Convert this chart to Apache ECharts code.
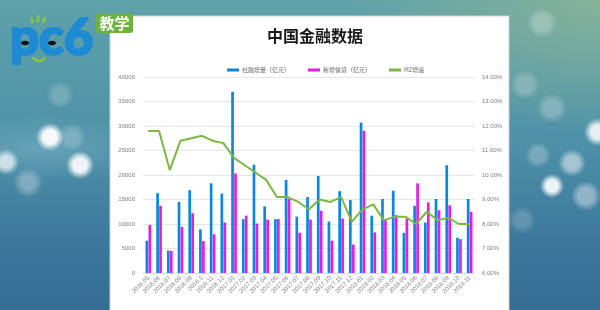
<!DOCTYPE html>
<html>
<head>
<meta charset="utf-8">
<script src="https://cdn.jsdelivr.net/npm/echarts@6/dist/echarts.min.js"></script>
<style>
  html, body { margin: 0; padding: 0; }
  #main {
    width: 600px;
    height: 310px;
    background:
      radial-gradient(circle at 50px 137px, rgba(255,255,255,0.95) 0 7px, rgba(255,255,255,0) 14px),
      radial-gradient(circle at 80px 165px, rgba(255,255,255,0.9) 0 7px, rgba(255,255,255,0) 14px),
      radial-gradient(circle at 6px 162px, rgba(255,255,255,0.7) 0 6px, rgba(255,255,255,0) 13px),
      radial-gradient(circle at 28px 183px, rgba(255,255,255,0.3) 0 7px, rgba(255,255,255,0) 15px),
      radial-gradient(circle at 60px 95px, rgba(255,255,255,0.2) 0 7px, rgba(255,255,255,0) 14px),
      radial-gradient(circle at 72px 137px, rgba(255,255,255,0.2) 0 7px, rgba(255,255,255,0) 14px),
      radial-gradient(circle at 542px 23px, rgba(255,255,255,0.25) 0 8px, rgba(255,255,255,0) 15px),
      radial-gradient(circle at 525px 85px, rgba(255,255,255,0.22) 0 8px, rgba(255,255,255,0) 15px),
      radial-gradient(circle at 552px 108px, rgba(255,255,255,0.25) 0 8px, rgba(255,255,255,0) 15px),
      radial-gradient(circle at 598px 132px, rgba(255,255,255,0.85) 0 7px, rgba(255,255,255,0) 14px),
      radial-gradient(circle at 572px 163px, rgba(255,255,255,0.5) 0 7px, rgba(255,255,255,0) 14px),
      radial-gradient(circle at 538px 155px, rgba(255,255,255,0.25) 0 7px, rgba(255,255,255,0) 13px),
      radial-gradient(circle at 552px 186px, rgba(255,255,255,0.9) 0 6px, rgba(255,255,255,0) 12px),
      radial-gradient(circle at 586px 196px, rgba(255,255,255,0.4) 0 8px, rgba(255,255,255,0) 15px),
      radial-gradient(circle at 522px 220px, rgba(255,255,255,0.18) 0 7px, rgba(255,255,255,0) 14px),
      radial-gradient(ellipse at 600px 0px, rgba(140,182,150,0.85), rgba(140,182,150,0) 260px),
      radial-gradient(ellipse at 40px 150px, rgba(150,200,215,0.35), rgba(150,200,215,0) 120px),
      linear-gradient(180deg, #5fa2aa 0%, #4e91a8 45%, #3c789c 78%, #356c94 100%);
  }
</style>
</head>
<body>
<div id="main"></div>
<script>
  // 月份
  const months = ['2016.05', '2016.06', '2016.07', '2016.08', '2016.09', '2016.1', '2016.11', '2016.12',
    '2017.01', '2017.02', '2017.03', '2017.04', '2017.05', '2017.06', '2017.07', '2017.08', '2017.09',
    '2017.10', '2017.11', '2017.12', '2018.01', '2018.02', '2018.03', '2018.04', '2018.05', '2018.06',
    '2018.07', '2018.08', '2018.09', '2018.10', '2018.11'];

  // 社融增量（亿元）
  const socialFinancing = [6600, 16300, 4600, 14500, 16900, 8900, 18300, 16200,
    37000, 11000, 22100, 13600, 11000, 19000, 11500, 15500, 19800,
    10500, 16700, 14900, 30700, 11700, 15100, 16800, 8200, 13700,
    10300, 15100, 22000, 7200, 15100];

  // 新增信贷（亿元）
  const newLoans = [9800, 13700, 4500, 9400, 12200, 6500, 7900, 10300,
    20300, 11700, 10100, 10900, 11000, 15100, 8200, 10900, 12700,
    6600, 11100, 5800, 29000, 8300, 11000, 11800, 11100, 18300,
    14400, 12800, 13800, 6900, 12500];

  // M2增速（%）
  const m2Growth = [11.8, 11.8, 10.2, 11.4, 11.5, 11.6, 11.4, 11.3,
    10.7, 10.4, 10.1, 9.8, 9.1, 9.1, 8.9, 8.6, 9.0,
    8.9, 9.1, 8.1, 8.6, 8.8, 8.15, 8.3, 8.3, 8.0,
    8.5, 8.15, 8.25, 8.0, 8.0];

  const chart = echarts.init(document.getElementById('main'), null, { renderer: 'canvas' });

  const axisLabelStyle = { fontSize: 6, color: '#7f7f7f', fontFamily: 'Liberation Sans' };

  chart.setOption({
    backgroundColor: 'transparent',
    animation: false,
    title: {
      text: '中国金融数据',
      left: 262,
      top: 23,
      textStyle: { fontSize: 16, fontWeight: 'bold', color: '#1a1a1a', fontFamily: 'Noto Sans CJK SC' }
    },
    legend: {
      left: 222,
      top: 62,
      itemWidth: 12,
      itemHeight: 3,
      itemGap: 18,
      icon: 'rect',
      textStyle: { fontSize: 6, color: '#666', fontFamily: 'Noto Sans CJK SC', padding: [0, 0, 0, -2] },
      data: ['社融增量（亿元）', '新增信贷（亿元）', 'M2增速']
    },
    grid: { left: 143, right: 125, top: 77, bottom: 37, containLabel: false },
    xAxis: {
      type: 'category',
      data: months,
      axisLine: { lineStyle: { color: '#d9d9d9' } },
      axisTick: { show: false },
      axisLabel: Object.assign({ rotate: 45, margin: 4, interval: 0 }, axisLabelStyle)
    },
    yAxis: [
      {
        type: 'value',
        min: 0,
        max: 40000,
        interval: 5000,
        axisLine: { show: false },
        axisTick: { show: false },
        axisLabel: Object.assign({
          margin: 8,
          formatter: function (v) { return String(v); }
        }, axisLabelStyle),
        splitLine: { lineStyle: { color: '#e6e6e6' } }
      },
      {
        type: 'value',
        min: 6,
        max: 14,
        interval: 1,
        axisLine: { show: false },
        axisTick: { show: false },
        axisLabel: Object.assign({
          margin: 7,
          formatter: function (v) { return v.toFixed(2) + '%'; }
        }, axisLabelStyle),
        splitLine: { show: false }
      }
    ],
    series: [
      {
        name: '社融增量（亿元）',
        type: 'bar',
        data: socialFinancing,
        barWidth: 2.7,
        barGap: '10%',
        itemStyle: { color: '#0b88dd' }
      },
      {
        name: '新增信贷（亿元）',
        type: 'bar',
        data: newLoans,
        barWidth: 2.7,
        itemStyle: { color: '#e31ee3' }
      },
      {
        name: 'M2增速',
        type: 'line',
        yAxisIndex: 1,
        data: m2Growth,
        showSymbol: false,
        symbol: 'none',
        lineStyle: { width: 2, color: '#7cb742' },
        itemStyle: { color: '#7cb742' },
        z: 5
      }
    ],
    graphic: [
      // 白色面板
      {
        type: 'rect',
        z: -10,
        shape: { x: 110, y: 16, width: 399, height: 300 },
        style: { fill: '#ffffff', stroke: '#c9d3d6', lineWidth: 1 }
      },
      // pc6 logo
      {
        type: 'text',
        z: 50,
        style: {
          text: 'pc6',
          x: 10,
          y: 39,
          fontSize: 51,
          fontWeight: 900,
          fontFamily: 'Lato',
          fill: '#1e8ad4',
          stroke: '#1e8ad4',
          lineWidth: 2,
          verticalAlign: 'middle'
        }
      },
      { type: 'ellipse', z: 51, shape: { cx: 25, cy: 43, rx: 4, ry: 2.2 }, style: { fill: '#111' } },
      { type: 'ellipse', z: 51, shape: { cx: 52, cy: 43, rx: 4, ry: 2.2 }, style: { fill: '#111' } },
      { type: 'line', z: 51, shape: { x1: 31, y1: 17, x2: 33, y2: 23 }, style: { stroke: '#8cc63f', lineWidth: 2.5 } },
      { type: 'line', z: 51, shape: { x1: 38, y1: 15, x2: 38, y2: 22 }, style: { stroke: '#8cc63f', lineWidth: 2.5 } },
      { type: 'line', z: 51, shape: { x1: 45, y1: 17, x2: 43, y2: 23 }, style: { stroke: '#8cc63f', lineWidth: 2.5 } },
      { type: 'arc', z: 51, shape: { cx: 39, cy: 55, r: 6, startAngle: 0.3, endAngle: Math.PI - 0.3 }, style: { stroke: '#8cc63f', lineWidth: 2.5, fill: 'none' } },
      // 教学 标签
      {
        type: 'rect',
        z: 60,
        shape: { x: 96, y: 13, width: 37, height: 20, r: 3 },
        style: { fill: '#6cb33e' }
      },
      {
        type: 'text',
        z: 61,
        style: {
          text: '教学',
          x: 114.5,
          y: 23.5,
          fontSize: 15,
          fontWeight: 'bold',
          fontFamily: 'Noto Sans CJK SC',
          fill: '#ffffff',
          align: 'center',
          verticalAlign: 'middle'
        }
      }
    ]
  });
</script>
</body>
</html>
